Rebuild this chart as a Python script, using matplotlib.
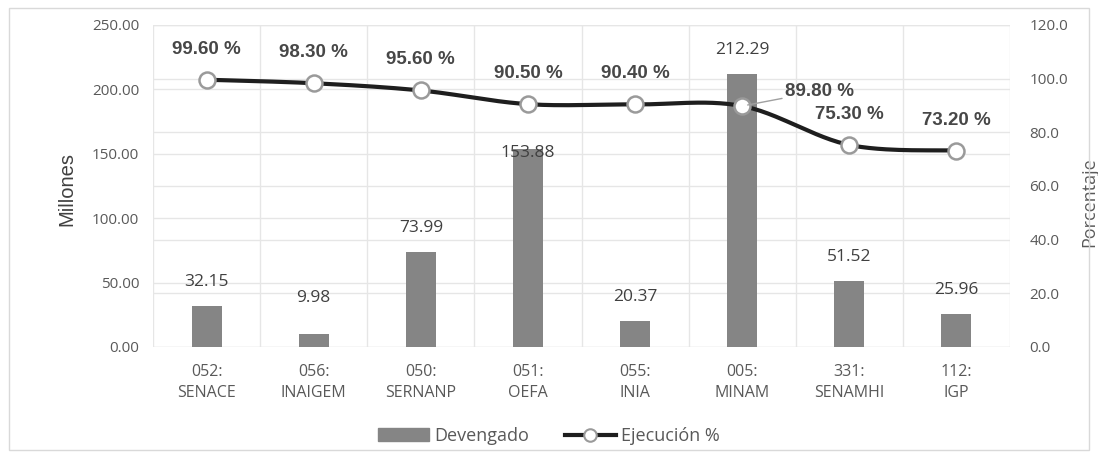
import numpy as np
import matplotlib
matplotlib.use("Agg")
import matplotlib.pyplot as plt
from matplotlib.patches import Rectangle
from matplotlib.lines import Line2D
from matplotlib.ticker import FormatStrFormatter, MultipleLocator

categories = ["052:\nSENACE", "056:\nINAIGEM", "050:\nSERNANP", "051:\nOEFA",
              "055:\nINIA", "005:\nMINAM", "331:\nSENAMHI", "112:\nIGP"]
devengado = [32.15, 9.98, 73.99, 153.88, 20.37, 212.29, 51.52, 25.96]
ejecucion = [99.60, 98.30, 95.60, 90.50, 90.40, 89.80, 75.30, 73.20]

TICK_C = "#595959"
GRID_C = "#e6e6e6"
tick_font = "Open Sans"
Y1MAX, Y2MAX = 250, 120

fig = plt.figure(figsize=(10.98, 4.54), dpi=100)
ax = fig.add_axes([153/1098, 1-347/454, (1010-153)/1098, (347-25)/454])
ax2 = ax.twinx()

x = np.arange(len(categories))
ax.set_xlim(-0.5, len(categories)-0.5)
ax.set_ylim(0, Y1MAX)
ax2.set_ylim(0, Y2MAX)

# gridlines (all drawn on the primary axes, behind the bars)
ax.yaxis.set_major_locator(MultipleLocator(50))
ax2.yaxis.set_major_locator(MultipleLocator(20))
for v in np.arange(0, Y1MAX + 1, 50):
    ax.axhline(v, color=GRID_C, lw=1, zorder=0)
for v in np.arange(0, Y2MAX + 1, 20):
    ax.axhline(v * Y1MAX / Y2MAX, color=GRID_C, lw=1, zorder=0)
for b in np.arange(-0.5, len(categories), 1):
    ax.axvline(b, color=GRID_C, lw=1, zorder=0)

bars = ax.bar(x, devengado, width=0.28, color="#858585", zorder=2)

# bar labels
offsets = [17, 26, 17, -3, 17, 17, 17, 17]
for xi, v, off in zip(x, devengado, offsets):
    ax.annotate(f"{v:.2f}", (xi, v), xytext=(0, off), textcoords="offset points",
                ha="center", va="center", fontsize=12.5, color="#404040",
                family=tick_font, zorder=5)

# smoothed line (Bezier smoothing like Excel)
def smooth(xs, ys, n=30):
    xs = np.asarray(xs, float); ys = np.asarray(ys, float)
    px = np.concatenate([[xs[0]], xs, [xs[-1]]])
    py = np.concatenate([[ys[0]], ys, [ys[-1]]])
    outx, outy = [], []
    for i in range(1, len(px) - 2):
        p0 = np.array([px[i], py[i]]); p3 = np.array([px[i+1], py[i+1]])
        c1 = p0 + (np.array([px[i+1], py[i+1]]) - np.array([px[i-1], py[i-1]])) / 6
        c2 = p3 - (np.array([px[i+2], py[i+2]]) - np.array([px[i], py[i]])) / 6
        t = np.linspace(0, 1, n)[:, None]
        pts = (1-t)**3*p0 + 3*(1-t)**2*t*c1 + 3*(1-t)*t**2*c2 + t**3*p3
        outx.extend(pts[:, 0]); outy.extend(pts[:, 1])
    return outx, outy

sx, sy = smooth(x, ejecucion)
ax2.plot(sx, sy, color="#1e1e1e", lw=3, zorder=3, solid_capstyle="round")
ax2.plot(x, ejecucion, ls="none", marker="o", ms=11.5, mfc="white", mec="#9a9a9a",
         mew=1.8, zorder=4)

for i, (xi, v) in enumerate(zip(x, ejecucion)):
    if i == 5:
        ax2.annotate(f"{v:.2f} %", (xi, v), xytext=(xi + 0.72, v + 5.5),
                     textcoords="data", ha="center", va="center",
                     fontsize=13.5, fontweight="bold", color="#474747",
                     family="Liberation Sans", zorder=6,
                     arrowprops=dict(arrowstyle="-", color="#a0a0a0", lw=1,
                                     shrinkA=32, shrinkB=4))
    else:
        ax2.annotate(f"{v:.2f} %", (xi, v), xytext=(0, 22), textcoords="offset points",
                     ha="center", va="center", fontsize=13.5, fontweight="bold",
                     color="#474747", family="Liberation Sans", zorder=6)

ax.set_xticks(x)
ax.set_xticklabels(categories, family=tick_font, fontsize=11.5, color=TICK_C,
                   linespacing=1.45)
ax.yaxis.set_major_formatter(FormatStrFormatter("%.2f"))
ax2.yaxis.set_major_formatter(FormatStrFormatter("%.1f"))
for lab in ax.get_yticklabels():
    lab.set_family(tick_font); lab.set_fontsize(11); lab.set_color(TICK_C)
for lab in ax2.get_yticklabels():
    lab.set_family(tick_font); lab.set_fontsize(11); lab.set_color(TICK_C)
ax.tick_params(axis="both", length=0, pad=10)
ax2.tick_params(axis="y", length=0, pad=14)
ax.tick_params(axis="x", pad=12)

for a in (ax, ax2):
    for s in a.spines.values():
        s.set_visible(False)

ax.set_ylabel("Millones", family="Liberation Sans", fontsize=14.5, color="#404040")
ax.yaxis.set_label_coords(-77/857, 0.49)
ax2.set_ylabel("Porcentaje", family=tick_font, fontsize=13, color=TICK_C)
ax2.yaxis.set_label_coords(1 + 70/857, 0.45)

handles = [Rectangle((0, 0), 1, 1, color="#858585"),
           Line2D([0], [0], color="#1e1e1e", lw=3, marker="o", ms=9,
                  mfc="white", mec="#9a9a9a", mew=1.5)]
fig.legend(handles, ["Devengado", "Ejecución %"], loc="center",
           bbox_to_anchor=(0.5, 1-436/454), ncol=2, frameon=False,
           prop={"family": tick_font, "size": 13}, labelcolor=TICK_C,
           handlelength=2.8, columnspacing=2.0, handletextpad=0.3)

fig.patches.append(Rectangle((9/1098, 4/454), 1080/1098, 442/454,
                             transform=fig.transFigure, fill=False,
                             edgecolor="#d9d9d9", lw=1))

fig.savefig("out.png", dpi=100)
